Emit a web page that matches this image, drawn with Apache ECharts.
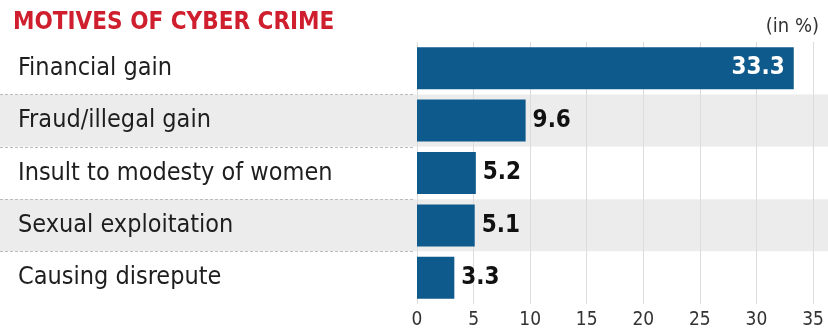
<!DOCTYPE html>
<html>
<head>
<meta charset="utf-8">
<script src="https://cdn.jsdelivr.net/npm/echarts@6/dist/echarts.min.js"></script>
<style>
  html, body { margin: 0; padding: 0; background: #fff; }
  #chart { width: 828px; height: 331px; }
</style>
</head>
<body>
<div id="chart"></div>
<script>
// data
const motives = [
  "Financial gain",
  "Fraud/illegal gain",
  "Insult to modesty of women",
  "Sexual exploitation",
  "Causing disrepute",
];
const shares = [33.3, 9.6, 5.2, 5.1, 3.3];
const xTicks = [0, 5, 10, 15, 20, 25, 30, 35];

const font = "'DejaVu Sans Condensed', 'Liberation Sans Narrow', Roboto, sans-serif";
const barColor = "#0e5a8c";

const chart = echarts.init(document.getElementById("chart"));

// rows: band background + dashed separators live on their own hidden grids
const rowCount = motives.length;
const gridTop = 42;
const gridBottom = 27;

chart.setOption({
  animation: false,
  backgroundColor: "#fff",
  title: [
    {
      text: "MOTIVES OF CYBER CRIME",
      left: 8,
      top: 6,
      textStyle: { fontFamily: font, fontSize: 24, fontWeight: "bold", color: "#cf1f2e" },
    },
    {
      text: "(in %)",
      right: 4,
      top: 12,
      textStyle: { fontFamily: font, fontSize: 20, fontWeight: "normal", color: "#333" },
    },
  ],
  grid: [
    { left: 0, right: 0, top: gridTop, bottom: gridBottom },          // bands
    { left: 0, width: 415, top: gridTop, bottom: gridBottom },       // dashed separators
    { left: 417, right: 15, top: gridTop, bottom: gridBottom },      // bars
  ],
  xAxis: [
    { gridIndex: 0, type: "value", min: 0, max: 1, show: false },
    { gridIndex: 1, type: "value", min: 0, max: 1, show: false },
    {
      gridIndex: 2,
      type: "value",
      min: xTicks[0],
      max: xTicks[xTicks.length - 1],
      interval: 5,
      axisLine: { show: false },
      axisTick: { show: false },
      axisLabel: { fontFamily: font, fontSize: 19, color: "#333", margin: 7 },
      splitLine: { show: true, lineStyle: { color: "#dcdcdc", width: 1 } },
    },
  ],
  yAxis: [
    {
      gridIndex: 0,
      type: "value",
      min: 0,
      max: rowCount,
      interval: 1,
      inverse: true,
      axisLine: { show: false },
      axisTick: { show: false },
      axisLabel: { show: false },
      splitLine: { show: false },
      splitArea: { show: true, areaStyle: { color: ["#ffffff", "#ececec"] } },
    },
    {
      gridIndex: 1,
      type: "value",
      min: 0,
      max: rowCount,
      interval: 1,
      inverse: true,
      axisLine: { show: false },
      axisTick: { show: false },
      axisLabel: { show: false },
      splitLine: {
        show: true,
        showMinLine: false,
        showMaxLine: false,
        lineStyle: { color: "#bcbcbc", type: [3, 2], width: 1 },
      },
    },
    {
      gridIndex: 2,
      type: "category",
      data: motives,
      inverse: true,
      axisLine: { show: false },
      axisTick: { show: false },
      axisLabel: {
        fontFamily: font,
        fontSize: 25,
        color: "#1e1e1e",
        align: "left",
        margin: 399,
      },
    },
  ],
  series: [
    {
      type: "bar",
      xAxisIndex: 2,
      yAxisIndex: 2,
      barWidth: 42,
      itemStyle: { color: barColor },
      data: shares.map((v) => ({
        value: v,
        label: v > 20
          ? { position: "insideRight", color: "#fff", distance: 9 }
          : { position: "right", color: "#111", distance: 7 },
      })),
      label: {
        show: true,
        fontFamily: font,
        fontSize: 24,
        fontWeight: "bold",
      },
    },
  ],
});
</script>
</body>
</html>
